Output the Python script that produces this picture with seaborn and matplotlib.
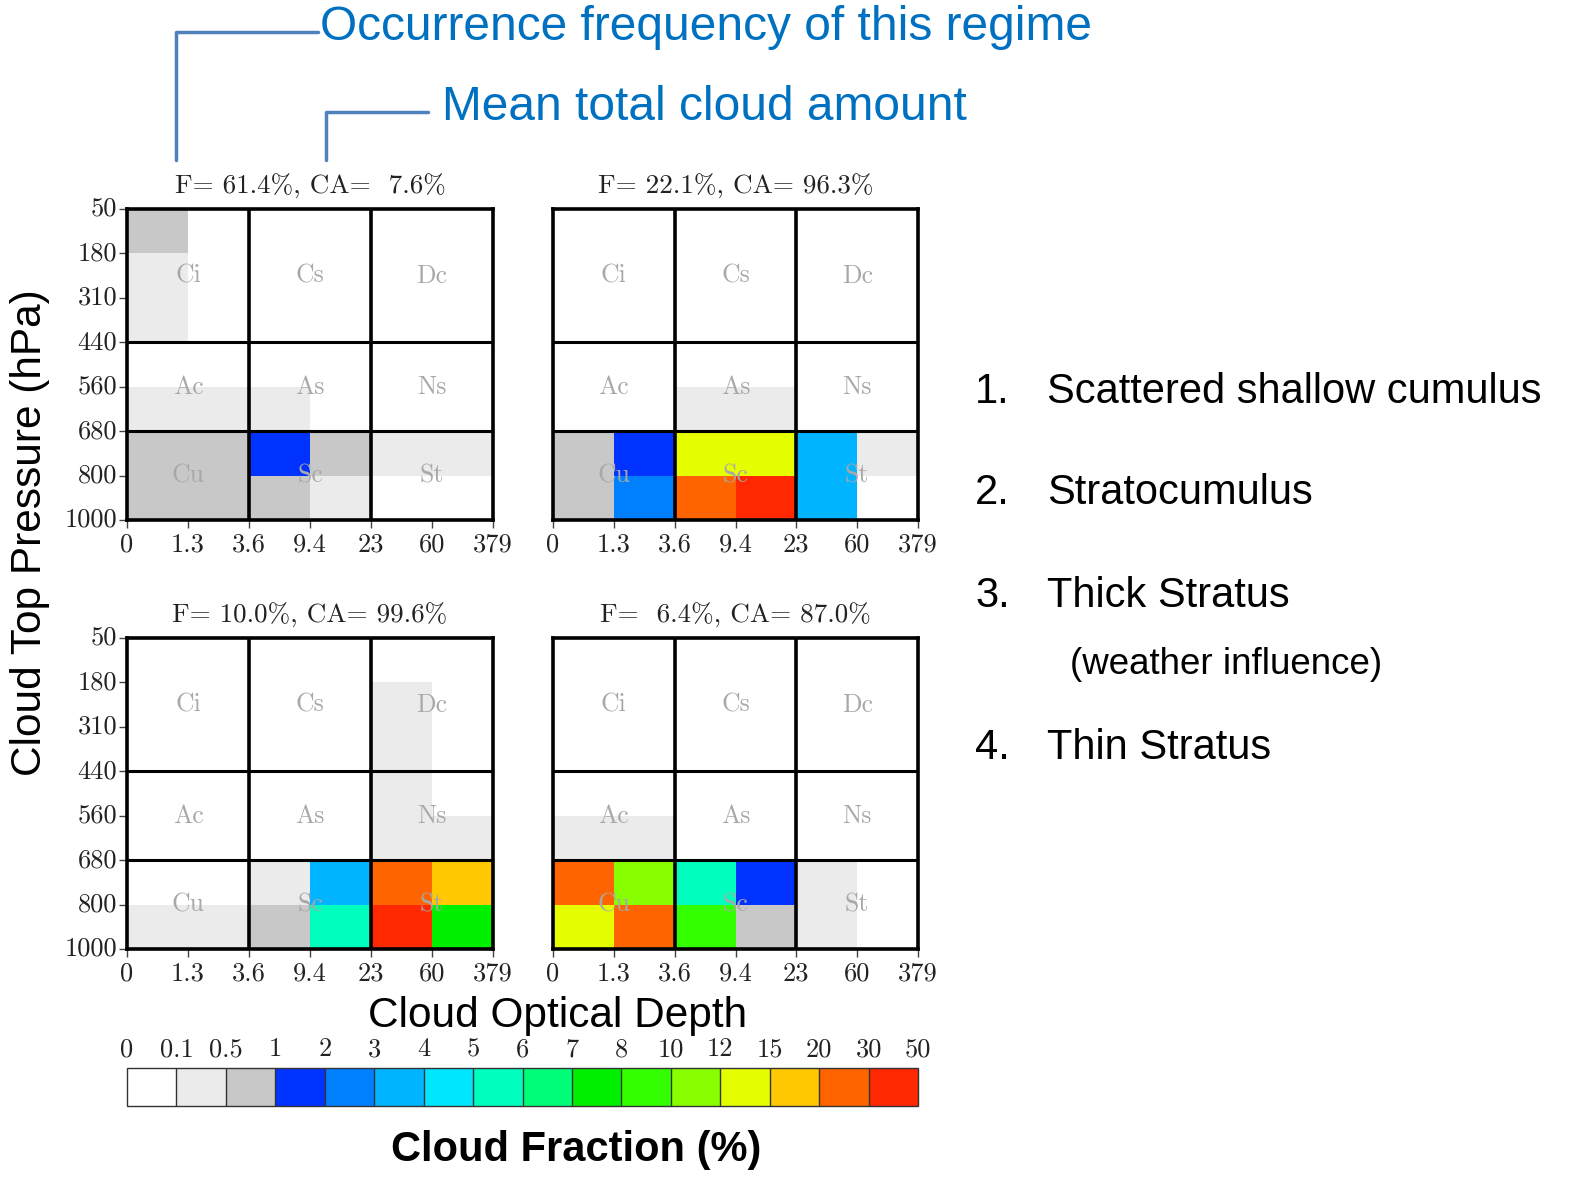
import numpy as np
import pandas as pd
import matplotlib
matplotlib.use("Agg")
import matplotlib.pyplot as plt
import seaborn as sns
from matplotlib.colors import ListedColormap, BoundaryNorm
import matplotlib.colorbar as mcolorbar

# ---------------- data ----------------
tau_labels = ["0", "1.3", "3.6", "9.4", "23", "60", "379"]
ctp_labels = ["50", "180", "310", "440", "560", "680", "800", "1000"]
levels = [0, 0.1, 0.5, 1, 2, 3, 4, 5, 6, 7, 8, 10, 12, 15, 20, 30, 50]
level_labels = ["0", "0.1", "0.5", "1", "2", "3", "4", "5", "6", "7", "8",
                "10", "12", "15", "20", "30", "50"]
level_colors = ["#FFFFFF", "#EBEBEB", "#C8C8C8", "#0033FF", "#0080FF", "#00B4FF",
                "#00E6FF", "#00FFBE", "#00FF78", "#00F000", "#33FF00", "#88FF00",
                "#E6FF00", "#FFC800", "#FF6400", "#FF2800"]

regime1 = [[0.7, 0, 0, 0, 0, 0],
           [0.3, 0, 0, 0, 0, 0],
           [0.3, 0, 0, 0, 0, 0],
           [0, 0, 0, 0, 0, 0],
           [0.3, 0.3, 0.3, 0, 0, 0],
           [0.7, 0.7, 1.5, 0.7, 0.3, 0.3],
           [0.7, 0.7, 0.7, 0.3, 0, 0]]
regime2 = [[0, 0, 0, 0, 0, 0],
           [0, 0, 0, 0, 0, 0],
           [0, 0, 0, 0, 0, 0],
           [0, 0, 0, 0, 0, 0],
           [0, 0, 0.3, 0.3, 0, 0],
           [0.7, 1.5, 13.5, 13.5, 3.5, 0.3],
           [0.7, 2.5, 25, 35, 3.5, 0]]
regime3 = [[0, 0, 0, 0, 0, 0],
           [0, 0, 0, 0, 0.3, 0],
           [0, 0, 0, 0, 0.3, 0],
           [0, 0, 0, 0, 0.3, 0],
           [0, 0, 0, 0, 0.3, 0.3],
           [0, 0, 0.3, 3.5, 25, 17],
           [0.3, 0.3, 0.7, 5.5, 35, 7.5]]
regime4 = [[0, 0, 0, 0, 0, 0],
           [0, 0, 0, 0, 0, 0],
           [0, 0, 0, 0, 0, 0],
           [0, 0, 0, 0, 0, 0],
           [0.3, 0.3, 0, 0, 0, 0],
           [25, 11, 5.5, 1.5, 0.3, 0],
           [13.5, 25, 9, 0.7, 0.3, 0]]
regimes = [regime1, regime2, regime3, regime4]
titles = ["F= 61.4%, CA=  7.6%", "F= 22.1%, CA= 96.3%",
          "F= 10.0%, CA= 99.6%", "F=  6.4%, CA= 87.0%"]
cloud_types = [["Ci", "Cs", "Dc"], ["Ac", "As", "Ns"], ["Cu", "Sc", "St"]]
regime_names = ["1.   Scattered shallow cumulus", "2.   Stratocumulus",
                "3.   Thick Stratus", "4.   Thin Stratus"]

# ---------------- figure ----------------
sns.set_theme(style="white")
plt.rcParams["axes.formatter.use_mathtext"] = True
W, H = 1579, 1179
fig = plt.figure(figsize=(W / 100, H / 100), dpi=100)
fig.patch.set_facecolor("white")

serif = ["cmr10", "DejaVu Serif"]
sans = ["Liberation Sans", "DejaVu Sans"]
tick_fs = 19

cmap = ListedColormap(level_colors)
norm = BoundaryNorm(levels, cmap.N)


def px_axes(x0, y0, x1, y1):
    return fig.add_axes([x0 / W, (H - y1) / H, (x1 - x0) / W, (y1 - y0) / H])


panel_boxes = [(127, 209, 493, 520), (553, 209, 918, 520),
               (127, 638, 493, 949), (553, 638, 918, 949)]

for i, (data, title, box) in enumerate(zip(regimes, titles, panel_boxes)):
    ax = px_axes(*box)
    df = pd.DataFrame(data, index=ctp_labels[:-1], columns=tau_labels[:-1])
    sns.heatmap(df, ax=ax, cmap=cmap, norm=norm, cbar=False,
                linewidths=0, square=False)
    ax.set_xticks(np.arange(7))
    ax.set_xticklabels(tau_labels, rotation=0, fontsize=tick_fs, family=serif,
                       color="#222222")
    if i in (0, 2):
        ax.set_yticks(np.arange(8))
        ax.set_yticklabels(ctp_labels, rotation=0, fontsize=tick_fs,
                           family=serif, color="#222222")
        ax.tick_params(axis="y", left=True, length=6, width=1, pad=1,
                       color="#444444")
    else:
        ax.set_yticks([])
    ax.tick_params(axis="x", bottom=True, length=6, width=1, pad=3,
                   color="#444444")
    ax.set_xlabel("")
    ax.set_ylabel("")
    for s in ax.spines.values():
        s.set_visible(True)
        s.set_color("black")
        s.set_linewidth(2.6)
    for yv in (3, 5):
        ax.axhline(yv, color="black", lw=2.2)
    for xv in (2, 4):
        ax.axvline(xv, color="black", lw=2.6)
    ycent = [1.5, 4.0, 6.0]
    for r in range(3):
        for c in range(3):
            ax.text(2 * c + 1, ycent[r], cloud_types[r][c], ha="center",
                    va="center", fontsize=18.5, family=serif, color="#A8A8A8")
    ax.set_title(title, fontsize=19.5, family=serif, color="#222222", pad=11)

# colorbar
cax = px_axes(127, 1068, 918, 1106)
cb = mcolorbar.ColorbarBase(cax, cmap=cmap, norm=norm, boundaries=levels,
                            ticks=levels, spacing="uniform",
                            orientation="horizontal", drawedges=True)
cb.outline.set_edgecolor("#333333")
cb.outline.set_linewidth(1.0)
cb.dividers.set_color("#333333")
cb.dividers.set_linewidth(1.0)
cax.xaxis.set_ticks_position("top")
cax.xaxis.set_label_position("top")
cb.set_ticklabels(level_labels)
cax.tick_params(axis="x", length=0, pad=5, labelsize=tick_fs)
for t in cax.get_xticklabels():
    t.set_family(serif)
    t.set_color("#222222")

# axis labels
fig.text(30 / W, 1 - 533 / H, "Cloud Top Pressure (hPa)", rotation=90,
         ha="center", va="center", fontsize=30.5, family=sans, color="black")
fig.text(558 / W, 1 - 1016 / H, "Cloud Optical Depth", ha="center",
         va="center", fontsize=30.5, family=sans, color="black")
fig.text(576 / W, 1 - 1150 / H, "Cloud Fraction (%)", ha="center",
         va="center", fontsize=30, family=sans, weight="bold", color="black")

# annotations
blue = "#0070C0"
line_blue = "#4F81BD"
fig.text(320 / W, 1 - 28 / H, "Occurrence frequency of this regime",
         ha="left", va="center", fontsize=34.5, family=sans, color=blue)
fig.text(442 / W, 1 - 107 / H, "Mean total cloud amount",
         ha="left", va="center", fontsize=34.5, family=sans, color=blue)
fig.add_artist(plt.Line2D([176 / W, 176 / W, 318 / W],
                          [1 - 160 / H, 1 - 32 / H, 1 - 32 / H],
                          color=line_blue, lw=2.5, transform=fig.transFigure))
fig.add_artist(plt.Line2D([326 / W, 326 / W, 428 / W],
                          [1 - 160 / H, 1 - 112 / H, 1 - 112 / H],
                          color=line_blue, lw=2.5, transform=fig.transFigure))

# regime list
ys = [392, 493, 596, 748]
for name, y in zip(regime_names, ys):
    num, txt = name.split(".", 1)
    fig.text(975 / W, 1 - y / H, num + ".", ha="left", va="center",
             fontsize=30, family=sans, color="black")
    fig.text(1047 / W, 1 - y / H, txt.strip(), ha="left", va="center",
             fontsize=30, family=sans, color="black")
fig.text(1070 / W, 1 - 664 / H, "(weather influence)", ha="left",
         va="center", fontsize=26.5, family=sans, color="black")

fig.savefig("out.png", dpi=100, facecolor="white")
